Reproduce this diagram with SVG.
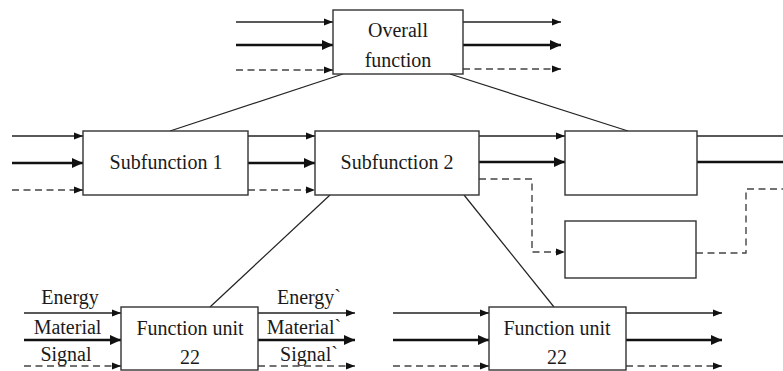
<svg xmlns="http://www.w3.org/2000/svg" width="783" height="371" viewBox="0 0 783 371">
  <style>
    .box { fill: #ffffff; stroke: #333333; stroke-width: 1.4; }
    .lbl { font-family: "Liberation Serif", "Times New Roman", serif; font-size: 20px; fill: #1a1a1a; text-anchor: middle; }
    .thin { fill: none; stroke: #222222; stroke-width: 1.4; }
    .thick { fill: none; stroke: #111111; stroke-width: 2.6; }
    .dash { fill: none; stroke: #444444; stroke-width: 1.4; stroke-dasharray: 7 4.5; }
    .link { fill: none; stroke: #222222; stroke-width: 1.2; }
  </style>
  <defs>
    <marker id="ah" markerUnits="userSpaceOnUse" markerWidth="10" markerHeight="8" refX="9" refY="4" orient="auto">
      <path d="M0,0.4 L9,4 L0,7.6 Z" fill="#111111"/>
    </marker>
    <marker id="ahBig" markerUnits="userSpaceOnUse" markerWidth="12" markerHeight="10" refX="11" refY="5" orient="auto">
      <path d="M0,0 L11,5 L0,10 Z" fill="#111111"/>
    </marker>
  </defs>

  <rect width="783" height="371" fill="#ffffff"/>

  <!-- connectors -->
  <g id="connectors">
    <!-- hierarchy links -->
    <path class="link" d="M343,74 L170,131"/>
    <path class="link" d="M450,74 L628,131"/>
    <path class="link" d="M330,195 L210,307"/>
    <path class="link" d="M464,195 L554,307"/>

    <!-- overall function flows -->
    <path class="thin" d="M236,22 L333,22" marker-end="url(#ah)"/>
    <path class="thick" d="M236,45 L333,45" marker-end="url(#ahBig)"/>
    <path class="dash" d="M236,70 L333,70" marker-end="url(#ah)"/>
    <path class="thin" d="M463,22 L561,22" marker-end="url(#ah)"/>
    <path class="thick" d="M463,45 L561,45" marker-end="url(#ahBig)"/>
    <path class="dash" d="M463,69 L561,69" marker-end="url(#ah)"/>

    <!-- subfunction chain -->
    <path class="thin" d="M12,136 L83,136" marker-end="url(#ah)"/>
    <path class="thick" d="M12,163 L83,163" marker-end="url(#ahBig)"/>
    <path class="dash" d="M12,190 L83,190" marker-end="url(#ah)"/>
    <path class="thin" d="M248,136 L315,136" marker-end="url(#ah)"/>
    <path class="thick" d="M248,163 L315,163" marker-end="url(#ahBig)"/>
    <path class="dash" d="M248,190 L315,190" marker-end="url(#ah)"/>
    <path class="thin" d="M479,136 L565,136" marker-end="url(#ah)"/>
    <path class="thick" d="M479,162 L565,162" marker-end="url(#ahBig)"/>
    <path class="dash" d="M479,179 L532,179 L532,252 L565,252" marker-end="url(#ah)"/>
    <path class="thin" d="M697,136 L783,136"/>
    <path class="thick" d="M697,162 L783,162"/>
    <path class="dash" d="M696,253 L746,253 L746,189 L783,189"/>

    <!-- function unit flows (left) -->
    <path class="thin" d="M24,313 L121,313" marker-end="url(#ah)"/>
    <path class="thick" d="M24,340 L121,340" marker-end="url(#ahBig)"/>
    <path class="dash" d="M24,366 L121,366" marker-end="url(#ah)"/>
    <path class="thin" d="M258,313 L355,313" marker-end="url(#ah)"/>
    <path class="thick" d="M258,340 L355,340" marker-end="url(#ahBig)"/>
    <path class="dash" d="M258,366 L355,366" marker-end="url(#ah)"/>

    <!-- function unit flows (right) -->
    <path class="thin" d="M393,313 L489,313" marker-end="url(#ah)"/>
    <path class="thick" d="M393,340 L489,340" marker-end="url(#ahBig)"/>
    <path class="dash" d="M393,366 L489,366" marker-end="url(#ah)"/>
    <path class="thin" d="M626,313 L722,313" marker-end="url(#ah)"/>
    <path class="thick" d="M626,340 L722,340" marker-end="url(#ahBig)"/>
    <path class="dash" d="M626,366 L722,366" marker-end="url(#ah)"/>
  </g>

  <!-- flow labels -->
  <g id="flow-labels">
    <text class="lbl" x="70" y="304">Energy</text>
    <text class="lbl" x="67.5" y="334">Material</text>
    <text class="lbl" x="66" y="361">Signal</text>
    <text class="lbl" x="309" y="304">Energy`</text>
    <text class="lbl" x="304" y="334">Material`</text>
    <text class="lbl" x="309" y="361">Signal`</text>
  </g>

  <!-- nodes -->
  <g id="overall-function">
    <rect class="box" x="333" y="10" width="130" height="64"/>
    <text class="lbl" x="398" y="37">Overall</text>
    <text class="lbl" x="398" y="67">function</text>
  </g>

  <g id="subfunction-1">
    <rect class="box" x="83" y="131" width="165" height="64"/>
    <text class="lbl" x="166" y="169">Subfunction 1</text>
  </g>

  <g id="subfunction-2">
    <rect class="box" x="315" y="131" width="164" height="64"/>
    <text class="lbl" x="397" y="169">Subfunction 2</text>
  </g>

  <g id="subfunction-3">
    <rect class="box" x="565" y="131" width="132" height="64"/>
  </g>

  <g id="subfunction-4">
    <rect class="box" x="565" y="221" width="131" height="57"/>
  </g>

  <g id="function-unit-a">
    <rect class="box" x="121" y="307" width="137" height="63"/>
    <text class="lbl" x="190" y="335">Function unit</text>
    <text class="lbl" x="190" y="364">22</text>
  </g>

  <g id="function-unit-b">
    <rect class="box" x="489" y="307" width="137" height="63"/>
    <text class="lbl" x="557" y="335">Function unit</text>
    <text class="lbl" x="557" y="364">22</text>
  </g>
</svg>
